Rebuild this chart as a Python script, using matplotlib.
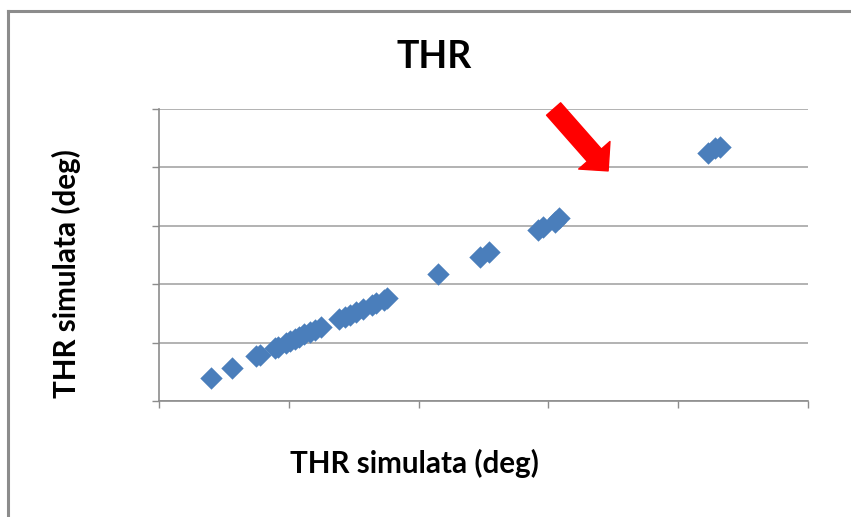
import matplotlib
matplotlib.use('Agg')
import matplotlib.pyplot as plt
from matplotlib.lines import Line2D

# THR simulata vs THR simulata
thr_x = [4.0, 5.6, 7.5, 7.8, 8.9, 9.2, 9.8, 10.1, 10.5, 10.8, 11.2, 11.6, 12.0, 12.5,
         13.9, 14.3, 14.7, 15.2, 15.7, 16.4, 16.7, 17.3, 17.6,
         21.5, 24.7, 25.4, 29.2, 29.6, 30.5, 30.8, 42.3, 42.8, 43.2]
thr_y = [4.0, 5.7, 7.7, 7.9, 9.0, 9.3, 9.9, 10.2, 10.6, 11.0, 11.4, 11.8, 12.2, 12.6,
         14.0, 14.4, 14.8, 15.3, 15.8, 16.4, 16.8, 17.3, 17.7,
         21.7, 24.7, 25.5, 29.3, 29.8, 30.7, 31.3, 42.4, 43.3, 43.5]

titolo = 'THR'
etichetta = 'THR simulata (deg)'

plt.rcParams['font.family'] = ['Lato', 'DejaVu Sans']

fig = plt.figure(figsize=(8.51, 5.17), dpi=100)
ax = fig.add_axes([159 / 851, 116 / 517, 649 / 851, 292 / 517])

# bordo del grafico (solo lato sinistro e superiore visibili)
bx, by = 7.5 / 851, 1 - 10.5 / 517
fig.lines.append(Line2D([bx, 1.0], [by, by], transform=fig.transFigure,
                        color='#8c8c8c', linewidth=2.2))
fig.lines.append(Line2D([bx, bx], [0.0, by], transform=fig.transFigure,
                        color='#8c8c8c', linewidth=2.2))

ax.scatter(thr_x, thr_y, marker='D', s=130, color='#4a7ebb', linewidths=0, zorder=3)

ax.set_xlim(0, 50)
ax.set_ylim(0, 50)
ax.set_xticks(range(0, 51, 10))
ax.set_yticks(range(0, 51, 10))
ax.set_xticklabels([])
ax.set_yticklabels([])
ax.tick_params(length=5, color='#8c8c8c', width=1)
ax.yaxis.grid(True, color='#a6a6a6', linewidth=1.2)
ax.set_axisbelow(True)
for s in ['top', 'right']:
    ax.spines[s].set_visible(False)
for s in ['left', 'bottom']:
    ax.spines[s].set_color('#8c8c8c')
    ax.spines[s].set_linewidth(1.2)

fig.text(434 / 851, 1 - 57 / 517, titolo, ha='center', va='center',
         fontsize=27, fontweight='bold')
fig.text(414 / 851, 1 - 463 / 517, etichetta, ha='center', va='center',
         fontsize=21.3, fontweight='bold')
fig.text(66 / 851, 1 - 274 / 517, etichetta, ha='center', va='center',
         fontsize=21.3, fontweight='bold', rotation=90)

# freccia rossa
ax.annotate('', xy=(34.6, 39.4), xytext=(30.4, 50.0),
            arrowprops=dict(arrowstyle='simple,head_length=0.5,head_width=1.0,tail_width=0.45',
                            mutation_scale=30, color='red', shrinkA=0, shrinkB=0),
            annotation_clip=False)

plt.savefig('out.png', dpi=100)
plt.close()
